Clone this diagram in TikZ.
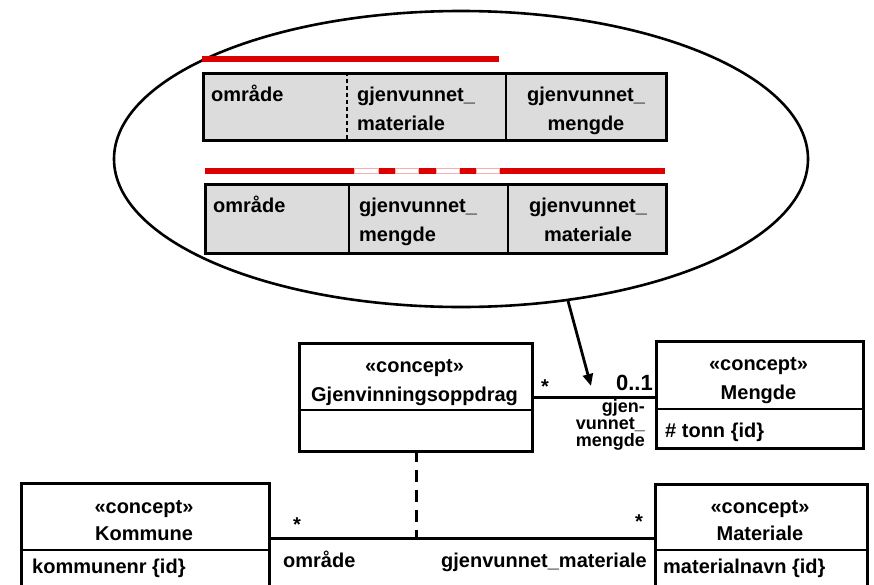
\documentclass[tikz,border=0pt]{standalone}
\usepackage{fontspec}
\setmainfont{Liberation Sans}
\usetikzlibrary{shapes.geometric,arrows.meta}
\definecolor{barred}{HTML}{DD0000}
\definecolor{tblgray}{HTML}{DCDCDC}
\definecolor{gappink}{HTML}{F4B0B0}
\begin{document}
\begin{tikzpicture}[x=1pt,y=-1pt,
  box/.style={draw=black,line width=3pt,fill=white,inner sep=0pt,anchor=north west},
  tbl/.style={draw=black,line width=3pt,fill=tblgray,inner sep=0pt,anchor=north west},
  lbl/.style={font=\fontsize{20}{24}\selectfont\bfseries,inner sep=0pt},
  small/.style={font=\fontsize{18}{15}\selectfont\bfseries,inner sep=0pt},
  big/.style={font=\fontsize{22}{24}\selectfont\bfseries,inner sep=0pt},
  thin/.style={line width=1.8pt},
  assoc/.style={line width=3pt},
  redbar/.style={draw=barred,line width=5.5pt},
  gapseg/.style={draw=gappink,line width=0.6pt,fill=white}]
\useasboundingbox (0,0) rectangle (874,584);

% lens ellipse
\node[ellipse,draw=black,line width=2.6pt,minimum width=694pt,minimum height=296pt,inner sep=0pt] (lens) at (461,159) {};

% first table
\draw[redbar] (202,59) coordinate (ra1) -- (499,59) coordinate (ra2);
\node[tbl,minimum width=463pt,minimum height=67pt] (tabA) at (202,72) {};
\coordinate (a1t) at (347,72); \coordinate (a1b) at (347,139);
\coordinate (a2t) at (506,72); \coordinate (a2b) at (506,139);
\draw[line width=1.2pt,dash pattern=on 4pt off 3pt] (a1t) -- (a1b);
\draw[thin] (a2t) -- (a2b);
\node[lbl,anchor=base west] (ta1) at (211,101) {område};
\node[lbl,anchor=base west] (ta2) at (357,101) {gjenvunnet\_};
\node[lbl,anchor=base west] (ta3) at (357,130) {materiale};
\node[lbl,anchor=base] (ta4) at (586,101) {gjenvunnet\_};
\node[lbl,anchor=base] (ta5) at (586,130) {mengde};

% second table
\draw[redbar] (205,171) coordinate (rb1) -- (665,171) coordinate (rb2);
\foreach \a/\b in {354/378,395/418,436/459,476/499}
  \draw[gapseg] (\a,168.5) rectangle (\b,173.5);
\node[tbl,minimum width=461pt,minimum height=69pt] (tabB) at (204,183) {};
\coordinate (b1t) at (349,183); \coordinate (b1b) at (349,252);
\coordinate (b2t) at (508,183); \coordinate (b2b) at (508,252);
\draw[thin] (b1t) -- (b1b);
\draw[thin] (b2t) -- (b2b);
\node[lbl,anchor=base west] (tb1) at (213,212) {område};
\node[lbl,anchor=base west] (tb2) at (359,212) {gjenvunnet\_};
\node[lbl,anchor=base west] (tb3) at (359,241) {mengde};
\node[lbl,anchor=base] (tb4) at (588,212) {gjenvunnet\_};
\node[lbl,anchor=base] (tb5) at (588,241) {materiale};

% Gjenvinningsoppdrag
\node[box,minimum width=233pt,minimum height=108pt] (gj) at (298,342) {};
\draw[thin] (298,410) coordinate (gjdl) -- (531,410) coordinate (gjdr);
\node[lbl,anchor=base] (gjs) at (414.5,372) {«concept»};
\node[lbl,anchor=base] (gjn) at (414.5,401) {Gjenvinningsoppdrag};

% Mengde
\node[box,minimum width=207pt,minimum height=107pt] (me) at (655,340) {};
\draw[thin] (655,409) coordinate (medl) -- (862,409) coordinate (medr);
\node[lbl,anchor=base] (mes) at (758.5,370) {«concept»};
\node[lbl,anchor=base] (men) at (758.5,399) {Mengde};
\node[lbl,anchor=base west] (mea) at (665,437) {\# tonn \{id\}};

% Kommune
\node[box,minimum width=248pt,minimum height=120pt] (ko) at (20,482) {};
\draw[thin] (20,550) coordinate (kodl) -- (268,550) coordinate (kodr);
\node[lbl,anchor=base] (kos) at (144,513) {«concept»};
\node[lbl,anchor=base] (kon) at (144,540) {Kommune};
\node[lbl,anchor=base west] (koa) at (32,573) {kommunenr \{id\}};

% Materiale
\node[box,minimum width=212pt,minimum height=120pt] (ma) at (654,483) {};
\draw[thin] (654,550) coordinate (madl) -- (866,550) coordinate (madr);
\node[lbl,anchor=base] (mas) at (760,513) {«concept»};
\node[lbl,anchor=base] (man) at (760,540) {Materiale};
\node[lbl,anchor=base west] (maa) at (663,573) {materialnavn \{id\}};

% association Gjenvinningsoppdrag - Mengde
\coordinate (g1) at (531,397);
\coordinate (m1) at (655,397);
\draw[assoc] (g1) -- (m1);
\node[lbl,anchor=base] (st1) at (545,393) {*};
\node[big,anchor=base east] (m01) at (653,390) {0..1};
\node[small,anchor=base east] (r1) at (645,412) {gjen-};
\node[small,anchor=base east] (r2) at (645,429) {vunnet\_};
\node[small,anchor=base east] (r3) at (645,446.5) {mengde};

% association Kommune - Materiale
\coordinate (k1) at (268,538);
\coordinate (mt1) at (654,538);
\coordinate (cj) at (416,538);
\draw[assoc] (k1) -- (mt1);
\draw[assoc,dash pattern=on 12pt off 8pt] (416,450) coordinate (gjb) -- (cj);
\node[lbl,anchor=base] (st2) at (297,531) {*};
\node[lbl,anchor=base] (st3) at (639,528) {*};
\node[lbl,anchor=base west] (ro1) at (283,567) {område};
\node[lbl,anchor=base east] (ro2) at (647,567) {gjenvunnet\_materiale};

% arrow from lens
\coordinate (tip) at (591,386);
\draw[line width=2.8pt,-{Triangle[length=12pt,width=10pt]}] (lens.-53) -- (tip);
\end{tikzpicture}
\end{document}
